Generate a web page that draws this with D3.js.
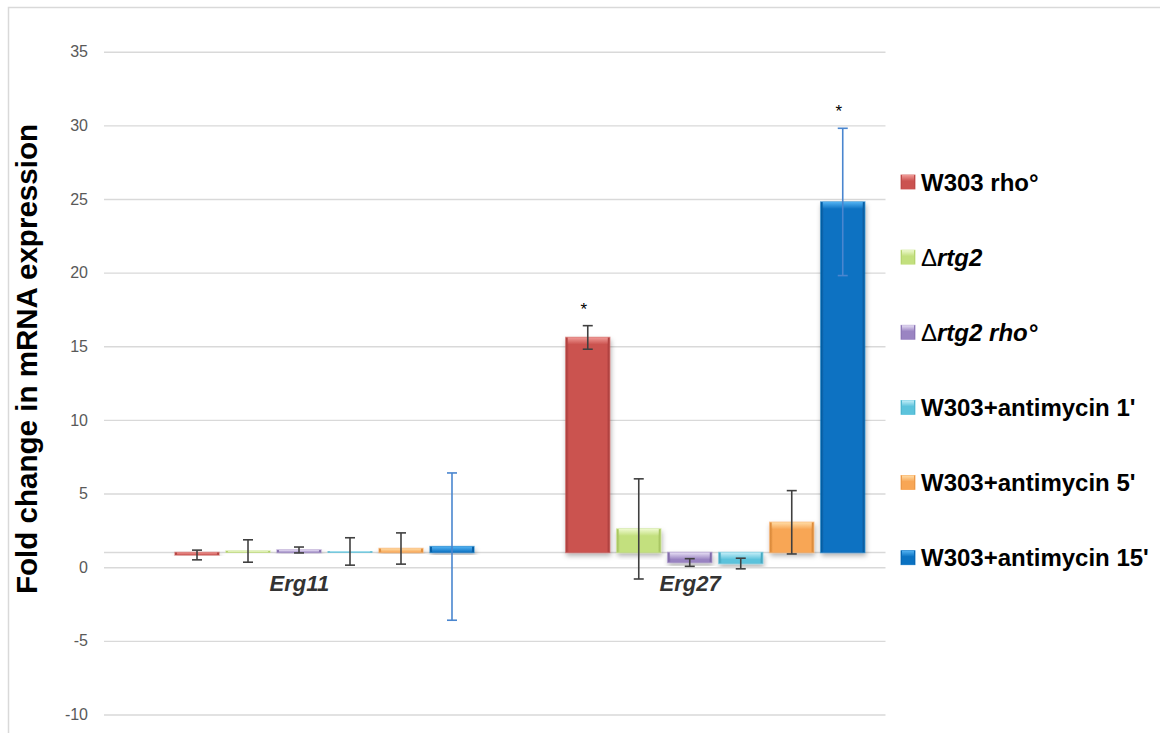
<!DOCTYPE html>
<html>
<head>
<meta charset="utf-8">
<script src="https://cdn.jsdelivr.net/npm/d3@7"></script>
<style>
  body { margin: 0; background: #fff; }
  svg { display: block; }
</style>
</head>
<body>
<svg id="chart" width="1160" height="733"></svg>
<script>
// ---- data ----
const categories = ["Erg11", "Erg27"];
const seriesNames = ["W303 rho°", "Δrtg2", "Δrtg2 rho°", "W303+antimycin 1'", "W303+antimycin 5'", "W303+antimycin 15'"];
const erg11Values = [0.83, 1.1, 1.17, 1.07, 1.27, 1.4];
const erg11Errors = [0.33, 0.76, 0.2, 0.93, 1.06, 5.0];
const erg27Values = [15.6, 2.6, 0.32, 0.25, 3.05, 24.8];
const erg27Errors = [0.8, 3.4, 0.26, 0.36, 2.15, 5.0];
const erg11Significant = [false, false, false, false, false, false];
const erg27Significant = [true, false, false, false, false, true];
const yTicks = [-10, -5, 0, 5, 10, 15, 20, 25, 30, 35];
const axisCrossing = 1; // bars grow from fold change = 1

// legend label pieces: [text, italic, bold]
const legendParts = [
  [["W303 rho°", false, true]],
  [["Δ", false, false], ["rtg2", true, true]],
  [["Δ", false, false], ["rtg2 rho°", true, true]],
  [["W303+antimycin 1'", false, true]],
  [["W303+antimycin 5'", false, true]],
  [["W303+antimycin 15'", false, true]]
];

// base, light (top bevel), dark (side bevel), error bar colour
const seriesColors = [
  { base: "#cb5250", light: "#f09a96", dark: "#9e3735", err: "#404040" },
  { base: "#c3e07e", light: "#eef9cf", dark: "#97b552", err: "#404040" },
  { base: "#9a84c2", light: "#e6def4", dark: "#6f5a96", err: "#404040" },
  { base: "#5cc3dc", light: "#c4eef8", dark: "#3696ae", err: "#404040" },
  { base: "#f8a655", light: "#ffdca6", dark: "#c97a2c", err: "#404040" },
  { base: "#0a72c2", light: "#52b2f2", dark: "#05508c", err: "#4a86cf" }
];

const rows = [
  { cat: "Erg11", values: erg11Values, errors: erg11Errors, sig: erg11Significant },
  { cat: "Erg27", values: erg27Values, errors: erg27Errors, sig: erg27Significant }
];

// ---- layout ----
const svg = d3.select("#chart");
const font = "'Liberation Sans', Arial, sans-serif";
const plotLeft = 104, plotRight = 885.5;

const y = d3.scaleLinear().domain([-10, 35]).range([714.5, 51.7]);
const x0 = d3.scaleBand().domain(categories).range([plotLeft, plotRight]);
const x1 = d3.scaleBand().domain(d3.range(seriesNames.length)).range([71, 370]).paddingInner(0.137);

// chart frame
svg.append("rect")
  .attr("x", 8.5).attr("y", 7.5).attr("width", 1170).attr("height", 740)
  .attr("fill", "#fff").attr("stroke", "#d9d9d9").attr("stroke-width", 1.5);

// ---- defs: gradients and shadow ----
const defs = svg.append("defs");
const shadow = defs.append("filter").attr("id", "barShadow")
  .attr("x", "-30%").attr("y", "-30%").attr("width", "160%").attr("height", "160%");
shadow.append("feDropShadow").attr("dx", 1).attr("dy", 3).attr("stdDeviation", 2.5)
  .attr("flood-color", "#000").attr("flood-opacity", 0.3);

seriesColors.forEach((c, i) => {
  const side = defs.append("linearGradient").attr("id", "side" + i)
    .attr("x1", 0).attr("x2", 1).attr("y1", 0).attr("y2", 0);
  side.append("stop").attr("offset", "0%").attr("stop-color", c.dark);
  side.append("stop").attr("offset", "7%").attr("stop-color", c.base);
  side.append("stop").attr("offset", "93%").attr("stop-color", c.base);
  side.append("stop").attr("offset", "100%").attr("stop-color", c.dark);

  const top = defs.append("linearGradient").attr("id", "top" + i)
    .attr("x1", 0).attr("x2", 0).attr("y1", 0).attr("y2", 1);
  top.append("stop").attr("offset", "0%").attr("stop-color", c.light).attr("stop-opacity", 1);
  top.append("stop").attr("offset", "100%").attr("stop-color", c.light).attr("stop-opacity", 0);
});

// ---- gridlines and y axis ----
const yAxis = d3.axisLeft(y).tickValues(yTicks)
  .tickFormat(d => String(d))
  .tickSize(-(plotRight - plotLeft)).tickPadding(16);
const gAxis = svg.append("g").attr("transform", `translate(${plotLeft},0)`).call(yAxis);
gAxis.select(".domain").remove();
gAxis.selectAll(".tick line").attr("stroke", "#d9d9d9").attr("stroke-width", 1.4);
gAxis.selectAll(".tick text")
  .attr("fill", "#595959").attr("font-family", font).attr("font-size", 16);

// horizontal axis line where the bars start
svg.append("line")
  .attr("x1", plotLeft).attr("x2", plotRight)
  .attr("y1", y(axisCrossing)).attr("y2", y(axisCrossing))
  .attr("stroke", "#d9d9d9").attr("stroke-width", 1.4);

// ---- bars ----
const groups = svg.selectAll("g.cat").data(rows).enter().append("g")
  .attr("class", "cat")
  .attr("transform", d => `translate(${x0(d.cat)},0)`);

const barData = r => r.values.map((v, i) => ({ v, e: r.errors[i], sig: r.sig[i], i }));

groups.each(function (r) {
  const g = d3.select(this);
  const bars = g.selectAll("g.bar").data(barData(r)).enter().append("g").attr("class", "bar");

  bars.each(function (d) {
    const b = d3.select(this);
    const bx = x1(d.i), bw = x1.bandwidth();
    const yTop = Math.min(y(d.v), y(axisCrossing));
    const h = Math.abs(y(d.v) - y(axisCrossing));
    const c = seriesColors[d.i];
    b.append("rect")
      .attr("x", bx).attr("y", yTop).attr("width", bw).attr("height", h)
      .attr("fill", `url(#side${d.i})`)
      .attr("stroke", c.base).attr("stroke-opacity", 0.55).attr("stroke-width", 1.5)
      .attr("filter", "url(#barShadow)");
    const capH = Math.min(7, h);
    b.append("rect")
      .attr("x", bx + 2).attr("y", yTop).attr("width", bw - 4).attr("height", capH)
      .attr("fill", `url(#top${d.i})`);
  });

  // error bars
  const eb = g.selectAll("g.err").data(barData(r)).enter().append("g").attr("class", "err")
    .attr("stroke", d => seriesColors[d.i].err).attr("stroke-width", 1.6).attr("fill", "none");
  const cx = d => x1(d.i) + x1.bandwidth() / 2;
  eb.append("line").attr("x1", cx).attr("x2", cx)
    .attr("y1", d => y(d.v + d.e)).attr("y2", d => y(d.v - d.e));
  eb.append("line").attr("x1", d => cx(d) - 5).attr("x2", d => cx(d) + 5)
    .attr("y1", d => y(d.v + d.e)).attr("y2", d => y(d.v + d.e));
  eb.append("line").attr("x1", d => cx(d) - 5).attr("x2", d => cx(d) + 5)
    .attr("y1", d => y(d.v - d.e)).attr("y2", d => y(d.v - d.e));

  // significance marks
  g.selectAll("text.sig").data(barData(r).filter(d => d.sig)).enter().append("text")
    .attr("class", "sig")
    .attr("x", d => cx(d) - 4).attr("y", d => y(d.v + d.e) - 11)
    .attr("text-anchor", "middle")
    .attr("font-family", font).attr("font-size", 17).attr("fill", "#000")
    .text("*");
});

// category labels
svg.selectAll("text.catLabel").data(categories).enter().append("text")
  .attr("class", "catLabel")
  .attr("x", d => x0(d) + x0.bandwidth() / 2)
  .attr("y", 591)
  .attr("text-anchor", "middle")
  .attr("font-family", font).attr("font-size", 22)
  .attr("font-weight", "bold").attr("font-style", "italic")
  .attr("fill", "#333333")
  .text(d => d);

// y axis title
svg.append("text")
  .attr("transform", "translate(37,359) rotate(-90)")
  .attr("text-anchor", "middle")
  .attr("font-family", font).attr("font-size", 30).attr("font-weight", "bold")
  .attr("fill", "#000")
  .attr("textLength", 470).attr("lengthAdjust", "spacingAndGlyphs")
  .text("Fold change in mRNA expression");

// ---- legend ----
const legendY = d3.scalePoint().domain(d3.range(seriesNames.length)).range([182, 557.7]);
const legend = svg.append("g");
const items = legend.selectAll("g").data(seriesNames).enter().append("g")
  .attr("transform", (d, i) => `translate(901,${legendY(i)})`);
items.append("rect")
  .attr("x", 0).attr("y", -7).attr("width", 14).attr("height", 14)
  .attr("fill", (d, i) => `url(#side${i})`)
  .attr("stroke", (d, i) => seriesColors[i].base).attr("stroke-width", 0.8);
items.append("rect")
  .attr("x", 1).attr("y", -7).attr("width", 12).attr("height", 6)
  .attr("fill", (d, i) => `url(#top${i})`);
items.append("text")
  .attr("x", 20).attr("y", 8.5)
  .attr("font-family", font).attr("font-size", 24).attr("fill", "#000")
  .each(function (d, i) {
    const t = d3.select(this);
    legendParts[i].forEach(([s, it, bd]) => {
      t.append("tspan")
        .attr("font-style", it ? "italic" : "normal")
        .attr("font-weight", bd ? "bold" : "normal")
        .text(s);
    });
  });
</script>
</body>
</html>
